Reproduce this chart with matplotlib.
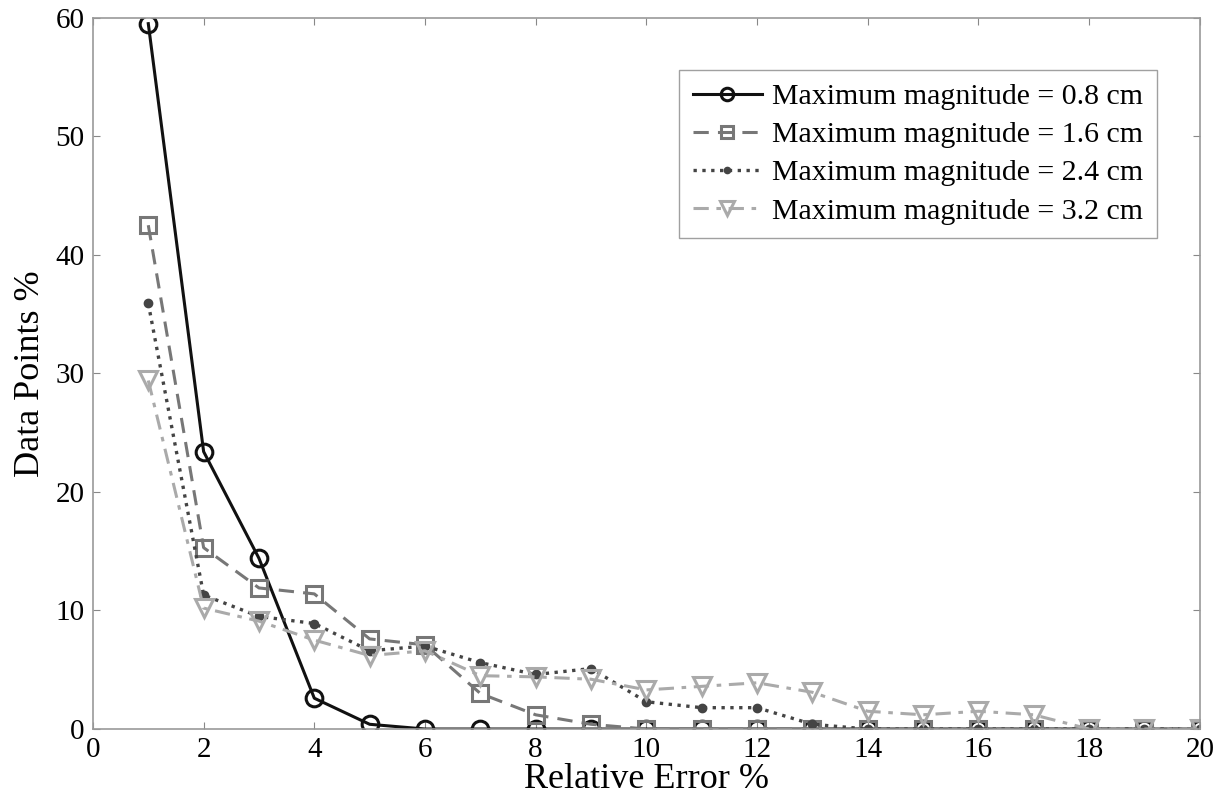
import matplotlib
matplotlib.use("Agg")
import matplotlib.pyplot as plt
import numpy as np

plt.rcParams['font.family'] = ['Liberation Serif', 'DejaVu Serif']

x = np.arange(1, 21)
mag_08 = [59.5, 23.4, 14.4, 2.6, 0.4, 0, 0, 0, 0, 0, 0, 0, 0, 0, 0, 0, 0, 0, 0, 0]
mag_16 = [42.5, 15.3, 11.9, 11.4, 7.6, 7.1, 3.0, 1.2, 0.4, 0, 0, 0, 0, 0, 0, 0, 0, 0, 0, 0]
mag_24 = [35.9, 11.3, 9.5, 8.9, 6.6, 7.0, 5.6, 4.6, 5.1, 2.3, 1.8, 1.8, 0.4, 0, 0, 0, 0, 0, 0, 0]
mag_32 = [29.4, 10.2, 9.1, 7.5, 6.2, 6.6, 4.5, 4.4, 4.2, 3.3, 3.6, 3.9, 3.1, 1.5, 1.2, 1.5, 1.2, 0, 0, 0]
labels = ['Maximum magnitude = 0.8 cm', 'Maximum magnitude = 1.6 cm',
          'Maximum magnitude = 2.4 cm', 'Maximum magnitude = 3.2 cm']

fig = plt.figure(figsize=(12.23, 8.06), dpi=100)
ax = fig.add_axes([0.076, 0.0955, 0.905, 0.8825])

ax.plot(x, mag_08, '-', color='#111111', lw=2.2, marker='o', ms=12, mfc='none', mew=2.2, label=labels[0])
ax.plot(x, mag_16, '--', color='#777777', lw=2.2, marker='s', ms=12, mfc='none', mew=2.2,
        dashes=(5, 3), label=labels[1])
ax.plot(x, mag_24, ':', color='#444444', lw=2.4, marker='o', ms=6, label=labels[2])
ax.plot(x, mag_32, '-.', color='#aaaaaa', lw=2.2, marker='v', ms=13, mfc='none', mew=2.2,
        dashes=(5, 2.5, 1.5, 2.5), label=labels[3])

ax.set_xlim(0, 20)
ax.set_ylim(0, 60)
ax.set_xticks(range(0, 21, 2))
ax.set_yticks(range(0, 61, 10))
ax.tick_params(direction='in', top=True, right=True, labelsize=21, length=5, color='#888888', pad=6)
for s in ax.spines.values():
    s.set_color('#999999')
    s.set_linewidth(1.2)

ax.set_xlabel('Relative Error %', fontsize=26, labelpad=0)
ax.set_ylabel('Data Points %', fontsize=26, labelpad=6)

leg = ax.legend(loc='upper right', bbox_to_anchor=(0.961, 0.927), fontsize=21.5,
                fancybox=False, edgecolor='#888888', handlelength=2.3, markerscale=0.75,
                borderpad=0.45, labelspacing=0.38, handletextpad=0.35, borderaxespad=0)
leg.get_frame().set_linewidth(1.0)

fig.savefig('out.png', dpi=100)
